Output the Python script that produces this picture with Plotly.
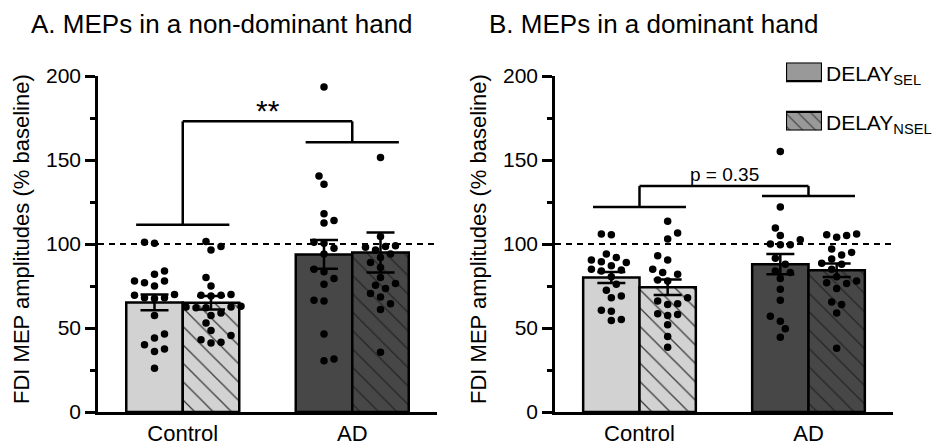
import plotly.graph_objects as go

# ---------------- data ----------------
categories = ["Control", "AD"]
conditions = ["DELAY<sub>SEL</sub>", "DELAY<sub>NSEL</sub>"]

# A. non-dominant hand: individual values (% baseline)
nd_ctrl_sel = [101, 100.5, 84, 82, 78, 77, 78, 75, 70, 68, 68, 67.5, 69.5, 57.5, 44, 46.5, 37.5, 36, 40, 26]
nd_ctrl_nsel = [101.5, 98.5, 96.5, 80, 75, 70, 69.5, 69, 69.5, 63, 62, 62.5, 62, 62.5, 57.5, 59, 53, 48.5, 43, 45.5, 41, 41.5]
nd_ad_sel = [193.5, 140.5, 135.5, 118, 114, 112.5, 101, 100.5, 97.5, 94, 83.5, 79.5, 85, 76, 66, 66.5, 46.5, 30.5, 31.5]
nd_ad_nsel = [151.5, 104.5, 98.5, 99, 96.5, 98, 94, 89, 92, 86, 80, 76.5, 73.5, 75.5, 70.5, 68.5, 64.5, 61, 35.5]
nd_mean_sel = [65.2, 93.8]
nd_mean_nsel = [65.0, 95.0]
nd_sem_sel = [4.7, 8.6]
nd_sem_nsel = [4.0, 11.9]

# B. dominant hand
d_ctrl_sel = [105.5, 106, 94, 92, 90.5, 89, 89.5, 87, 85, 84, 84.5, 80.5, 76, 72.5, 68, 69, 60, 60.5, 54.5, 55]
d_ctrl_nsel = [113.5, 106.5, 103, 93, 90.5, 82, 85, 83, 78.5, 78, 68, 64.5, 64, 66, 58, 57.5, 58.5, 52, 45, 38.5]
d_ad_sel = [155, 122, 109.5, 105, 102.5, 100, 99.5, 99.5, 88, 91.5, 79.5, 84, 83, 73, 66.5, 57, 54, 49.5, 44.5]
d_ad_nsel = [106, 105, 104, 105.5, 97, 95, 93.5, 91, 88.5, 88, 80.5, 85, 78, 76.5, 77, 73.5, 65.5, 64, 59, 38]
d_mean_sel = [80.1, 88.0]
d_mean_nsel = [74.2, 84.4]
d_sem_sel = [3.3, 6.0]
d_sem_nsel = [4.6, 4.0]

# significance brackets: [control arm, top, AD arm] heights and labels
nd_bracket = [111.5, 173, 160.5]
d_bracket = [122, 134.5, 128.5]
sig_labels = ["**", "p = 0.35"]
titles = ["A. MEPs in a non-dominant hand", "B. MEPs in a dominant hand"]
ylabel = "FDI MEP amplitudes (% baseline)"
y_ticks = [0, 50, 100, 150, 200]
y_minor = [25, 75, 125, 175]

# ---------------- style ----------------
W, H = 937, 446
FONT = "Liberation Sans, Arial, sans-serif"
FILLS = ["#d2d2d2", "#474747"]      # Control, AD
HATCHES = ["#3c3c3c", "#262626"]    # hatch line colours on Control, AD
LEG = "#999999"
LW = 2.5

panels = [
    dict(x0=98, x1=437, xa="x", ya="y", title_x=29, ylab_x=21),
    dict(x0=555, x1=893, xa="x2", ya="y2", title_x=487, ylab_x=478),
]
Y0, Y1 = 412, 76  # pixel rows for 0 and 200
PX_PER_X = (437 - 98) / 2.0
PX_PER_Y = (Y0 - Y1) / 200.0


def swarm(values, center, d=9.0, step=5.0):
    """Simple beeswarm: place dots (sorted by value) at the smallest free horizontal offset."""
    order = sorted(range(len(values)), key=lambda i: values[i])
    placed = []
    offs = [0.0] * len(values)
    flip = 1
    for i in order:
        y = values[i] * PX_PER_Y
        cands = [0.0]
        for k in range(1, 30):
            cands += [flip * k * step, -flip * k * step]
        for c in cands:
            if all((c - px) ** 2 + (y - py) ** 2 >= d * d for px, py in placed):
                break
        if c != 0:
            flip = -flip
        placed.append((c, y))
        offs[i] = c / PX_PER_X
    return [center + o for o in offs]


fig = go.Figure()

panel_data = [
    (nd_mean_sel, nd_mean_nsel, nd_sem_sel, nd_sem_nsel,
     [nd_ctrl_sel, nd_ad_sel], [nd_ctrl_nsel, nd_ad_nsel], nd_bracket),
    (d_mean_sel, d_mean_nsel, d_sem_sel, d_sem_nsel,
     [d_ctrl_sel, d_ad_sel], [d_ctrl_nsel, d_ad_nsel], d_bracket),
]

xs = list(range(len(categories)))
BAR_W = 1 / 3.0

for p, (msel, mnsel, ssel, snsel, pts_sel, pts_nsel, br) in zip(panels, panel_data):
    xa, ya = p["xa"], p["ya"]
    err = dict(type="data", visible=True, color="black", thickness=LW, width=14)
    for gi in xs:
        fig.add_trace(go.Bar(
            x=[gi], y=[msel[gi]], xaxis=xa, yaxis=ya, offsetgroup="sel",
            marker=dict(color=FILLS[gi], line=dict(color="black", width=LW)),
            error_y=dict(array=[ssel[gi]], **err), showlegend=False, hoverinfo="skip"))
        fig.add_trace(go.Bar(
            x=[gi], y=[mnsel[gi]], xaxis=xa, yaxis=ya, offsetgroup="nsel",
            marker=dict(color=FILLS[gi], line=dict(color="black", width=LW),
                        pattern=dict(shape="\\", bgcolor=FILLS[gi], fgcolor=HATCHES[gi],
                                     fillmode="replace", size=13, solidity=0.1)),
            error_y=dict(array=[snsel[gi]], **err), showlegend=False, hoverinfo="skip"))
    for gi, vals in enumerate(pts_sel):
        fig.add_trace(go.Scatter(
            x=swarm(vals, gi - BAR_W / 2), y=vals, xaxis=xa, yaxis=ya, mode="markers",
            marker=dict(color="black", size=7.5), cliponaxis=False, showlegend=False,
            hoverinfo="skip"))
    for gi, vals in enumerate(pts_nsel):
        fig.add_trace(go.Scatter(
            x=swarm(vals, gi + BAR_W / 2), y=vals, xaxis=xa, yaxis=ya, mode="markers",
            marker=dict(color="black", size=7.5), cliponaxis=False, showlegend=False,
            hoverinfo="skip"))

# legend swatches in a small hidden axis
fig.add_trace(go.Bar(
    x=[1], y=[1], base=0, orientation="h", width=0.38, xaxis="x3", yaxis="y3",
    offsetgroup="leg", marker=dict(color=LEG, line=dict(color="black", width=2.2)),
    showlegend=False, hoverinfo="skip"))
fig.add_trace(go.Bar(
    x=[1], y=[0], base=0, orientation="h", width=0.38, xaxis="x3", yaxis="y3",
    offsetgroup="leg", marker=dict(color=LEG, line=dict(color="black", width=2.2),
                                   pattern=dict(shape="\\", bgcolor=LEG, fgcolor="#3a3a3a",
                                                fillmode="replace", size=9, solidity=0.12)),
    showlegend=False, hoverinfo="skip"))

shapes = []
annotations = []
for i, (p, pd_) in enumerate(zip(panels, panel_data)):
    xa, ya = p["xa"], p["ya"]
    br = pd_[6]
    # dashed 100 % line
    shapes.append(dict(type="line", xref=xa, yref=ya, x0=-0.5, x1=1.5, y0=100, y1=100,
                       line=dict(color="black", width=2, dash="6px,5px"), layer="below"))
    # bracket: arms over each group, connected at the top
    for gi, h in zip(xs, [br[0], br[2]]):
        shapes.append(dict(type="line", xref=xa, yref=ya, x0=gi - 0.275, x1=gi + 0.275,
                           y0=h, y1=h, line=dict(color="black", width=LW)))
        shapes.append(dict(type="line", xref=xa, yref=ya, x0=gi, x1=gi, y0=h, y1=br[1],
                           line=dict(color="black", width=LW)))
    shapes.append(dict(type="line", xref=xa, yref=ya, x0=0, x1=1, y0=br[1], y1=br[1],
                       line=dict(color="black", width=LW)))
    # titles and y labels
    annotations.append(dict(text=titles[i], xref="paper", yref="paper", x=p["title_x"] / W,
                            y=1 - 24 / H, xanchor="left", yanchor="middle", showarrow=False,
                            font=dict(size=26, color="black", family=FONT)))
    annotations.append(dict(text=ylabel, xref="paper", yref="paper", x=p["ylab_x"] / W,
                            y=1 - 239 / H, xanchor="center", yanchor="middle", textangle=-90,
                            showarrow=False, font=dict(size=22, color="black", family=FONT)))

annotations.append(dict(text=sig_labels[0], xref="x", yref="y", x=0.5, y=nd_bracket[1],
                        yanchor="bottom", yshift=-8, showarrow=False,
                        font=dict(size=30, color="black", family=FONT)))
annotations.append(dict(text=sig_labels[1], xref="x2", yref="y2", x=0.5, y=d_bracket[1],
                        yanchor="bottom", yshift=-1, showarrow=False,
                        font=dict(size=19, color="black", family=FONT)))
for lab, yy in zip(conditions, [1, 0]):
    annotations.append(dict(text=lab, xref="x3", yref="y3", x=1, y=yy, xanchor="left",
                            yanchor="middle", xshift=2, yshift=-3, showarrow=False,
                            font=dict(size=21, color="black", family=FONT)))

layout = dict(
    width=W, height=H, margin=dict(l=0, r=0, t=0, b=0),
    paper_bgcolor="white", plot_bgcolor="white",
    barmode="group", bargap=1 / 3.0, bargroupgap=0,
    font=dict(family=FONT, color="black"),
    shapes=shapes, annotations=annotations, showlegend=False,
    xaxis3=dict(domain=[786 / W, 822 / W], range=[0, 1], visible=False, fixedrange=True),
    yaxis3=dict(domain=[1 - 130.5 / H, 1 - 62.5 / H], range=[-0.19, 1.19], visible=False,
                fixedrange=True, anchor="x3"),
)
for k, p in enumerate(panels):
    sfx = "" if k == 0 else "2"
    layout["xaxis" + sfx] = dict(
        domain=[p["x0"] / W, p["x1"] / W], range=[-0.5, 1.5], tickvals=xs, ticktext=categories,
        showline=True, linewidth=LW, linecolor="black", ticks="", showgrid=False,
        zeroline=False, tickfont=dict(size=22, family=FONT, color="black"),
        anchor="y" + sfx, fixedrange=True, automargin=False)
    layout["yaxis" + sfx] = dict(
        domain=[1 - Y0 / H, 1 - Y1 / H], range=[0, 200], tickvals=y_ticks,
        ticks="outside", ticklen=10, tickwidth=LW, tickcolor="black",
        minor=dict(tickvals=y_minor, ticks="outside", ticklen=5, tickwidth=LW, tickcolor="black"),
        showline=True, linewidth=LW, linecolor="black", showgrid=False, zeroline=False,
        tickfont=dict(size=21, family=FONT, color="black"),
        anchor="x" + sfx, fixedrange=True, automargin=False)

fig.update_layout(**layout)
fig.write_html("out.html", config={"displayModeBar": False},
               post_script="document.body.style.margin='0';document.body.style.overflow='hidden';")
